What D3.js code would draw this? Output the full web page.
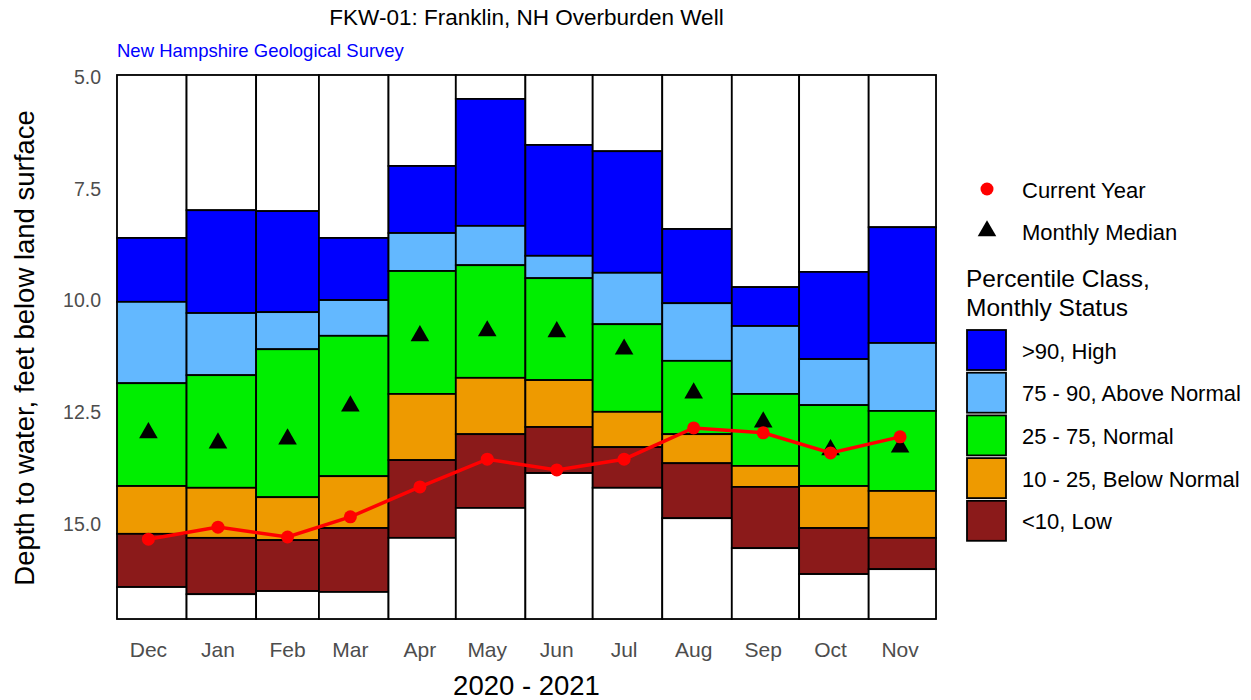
<!DOCTYPE html>
<html>
<head>
<meta charset="utf-8">
<script src="https://cdn.jsdelivr.net/npm/d3@7"></script>
<style>
  body { margin: 0; background: #fff; }
  svg { display: block; font-family: "Liberation Sans", Arial, sans-serif; }
</style>
</head>
<body>
<svg id="chart" width="1251" height="700"></svg>
<script>
// monthly percentile levels (depth to water, ft below land surface)
const months = ['Dec', 'Jan', 'Feb', 'Mar', 'Apr', 'May', 'Jun', 'Jul', 'Aug', 'Sep', 'Oct', 'Nov'];
const monthStart = ['2020-12-01', '2021-01-01', '2021-02-01', '2021-03-01', '2021-04-01', '2021-05-01',
  '2021-06-01', '2021-07-01', '2021-08-01', '2021-09-01', '2021-10-01', '2021-11-01', '2021-12-01'];
const recordHigh = [8.60, 7.98, 8.00, 8.60, 6.99, 5.49, 6.52, 6.66, 8.40, 9.70, 9.36, 8.36];
const p90 = [10.03, 10.28, 10.26, 9.99, 8.49, 8.33, 9.00, 9.38, 10.06, 10.57, 11.31, 10.95];
const p75 = [11.85, 11.67, 11.09, 10.79, 9.34, 9.21, 9.50, 10.53, 11.35, 12.09, 12.34, 12.47];
const p25 = [14.15, 14.19, 14.40, 13.93, 12.09, 11.73, 11.78, 12.49, 12.99, 13.70, 14.15, 14.26];
const p10 = [15.22, 15.31, 15.36, 15.09, 13.57, 12.99, 12.83, 13.28, 13.64, 14.17, 15.09, 15.31];
const recordLow = [16.41, 16.57, 16.50, 16.52, 15.31, 14.64, 13.86, 14.19, 14.87, 15.54, 16.12, 16.01];
const median = [12.96, 13.19, 13.10, 12.36, 10.79, 10.68, 10.70, 11.09, 12.07, 12.72, 13.34, 13.28];
const currentYear = [15.34, 15.07, 15.29, 14.84, 14.17, 13.55, 13.79, 13.55, 12.85, 12.96, 13.41, 13.05];
const yTicks = [5, 7.5, 10, 12.5, 15];
const yDomain = [4.955, 17.125];

const classNames = ['>90, High', '75 - 90, Above Normal', '25 - 75, Normal', '10 - 25, Below Normal', '<10, Low'];
const classColors = ['#0000FF', '#63B8FF', '#00EE00', '#EE9A00', '#8B1A1A'];

const svg = d3.select('#chart');
const parse = d3.utcParse('%Y-%m-%d');
const plotL = 117, plotR = 936, plotT = 75, plotB = 619;

const x = d3.scaleUtc()
  .domain([parse(monthStart[0]), parse(monthStart[12])])
  .range([plotL, plotR]);
const y = d3.scaleLinear().domain(yDomain).range([plotT, plotB]);

// mid-month position (15th)
const mid = i => x(d3.utcDay.offset(parse(monthStart[i]), 14));

// build segments for each month
const segs = [];
months.forEach((m, i) => {
  const bounds = [yDomain[0], recordHigh[i], p90[i], p75[i], p25[i], p10[i], recordLow[i], yDomain[1]];
  const fills = ['#ffffff'].concat(classColors, ['#ffffff']);
  for (let k = 0; k < fills.length; k++) {
    segs.push({ i: i, y0: bounds[k], y1: bounds[k + 1], fill: fills[k] });
  }
});

svg.append('rect')
  .attr('x', plotL).attr('y', plotT)
  .attr('width', plotR - plotL).attr('height', plotB - plotT)
  .attr('fill', 'none').attr('stroke', '#7f7f7f').attr('stroke-width', 1);

svg.append('g').selectAll('rect')
  .data(segs)
  .enter().append('rect')
  .attr('x', d => x(parse(monthStart[d.i])))
  .attr('width', d => x(parse(monthStart[d.i + 1])) - x(parse(monthStart[d.i])))
  .attr('y', d => y(d.y0))
  .attr('height', d => y(d.y1) - y(d.y0))
  .attr('fill', d => d.fill)
  .attr('stroke', '#000')
  .attr('stroke-width', 1.8);

// medians
const tri = d3.symbol().type(d3.symbolTriangle).size(150);
svg.append('g').selectAll('path')
  .data(median)
  .enter().append('path')
  .attr('d', tri)
  .attr('transform', (d, i) => 'translate(' + mid(i) + ',' + y(d) + ')')
  .attr('fill', '#000');

// current year
const line = d3.line().x((d, i) => mid(i)).y(d => y(d));
svg.append('path')
  .datum(currentYear)
  .attr('d', line)
  .attr('fill', 'none')
  .attr('stroke', '#FF0000')
  .attr('stroke-width', 3.5);

svg.append('g').selectAll('circle')
  .data(currentYear)
  .enter().append('circle')
  .attr('cx', (d, i) => mid(i))
  .attr('cy', d => y(d))
  .attr('r', 6.5)
  .attr('fill', '#FF0000');

// axes
svg.append('g').selectAll('text')
  .data(yTicks)
  .enter().append('text')
  .attr('x', 101)
  .attr('y', d => y(d))
  .attr('dy', '0.35em')
  .attr('text-anchor', 'end')
  .attr('fill', '#4d4d4d')
  .style('font-size', '19.5px')
  .text(d => d3.format('.1f')(d));

svg.append('g').selectAll('text')
  .data(months)
  .enter().append('text')
  .attr('x', (d, i) => mid(i))
  .attr('y', 657)
  .attr('text-anchor', 'middle')
  .attr('fill', '#4d4d4d')
  .style('font-size', '21px')
  .text(d => d);

svg.append('text')
  .attr('x', (plotL + plotR) / 2).attr('y', 695)
  .attr('text-anchor', 'middle')
  .style('font-size', '27.5px')
  .text('2020 - 2021');

svg.append('text')
  .attr('transform', 'translate(34,' + ((plotT + plotB) / 2 + 1) + ') rotate(-90)')
  .attr('text-anchor', 'middle')
  .style('font-size', '27.5px')
  .text('Depth to water, feet below land surface');

svg.append('text')
  .attr('x', (plotL + plotR) / 2).attr('y', 25)
  .attr('text-anchor', 'middle')
  .style('font-size', '22.5px')
  .text('FKW-01: Franklin, NH Overburden Well');

svg.append('text')
  .attr('x', plotL).attr('y', 57)
  .attr('fill', '#0000FF')
  .style('font-size', '18.5px')
  .text('New Hampshire Geological Survey');

// legend
const lg = svg.append('g');
lg.append('circle').attr('cx', 987).attr('cy', 189).attr('r', 6.5).attr('fill', '#FF0000');
lg.append('text').attr('x', 1022).attr('y', 190).attr('dy', '0.35em').style('font-size', '22px').text('Current Year');
lg.append('path').attr('d', tri).attr('transform', 'translate(987,231)').attr('fill', '#000');
lg.append('text').attr('x', 1022).attr('y', 232).attr('dy', '0.35em').style('font-size', '22px').text('Monthly Median');
lg.append('text').attr('x', 966).attr('y', 287).style('font-size', '24.5px').text('Percentile Class,');
lg.append('text').attr('x', 966).attr('y', 316).style('font-size', '24.5px').text('Monthly Status');

const item = lg.selectAll('g.item')
  .data(classNames)
  .enter().append('g')
  .attr('class', 'item')
  .attr('transform', (d, i) => 'translate(967,' + (330 + i * 42.7) + ')');
item.append('rect')
  .attr('width', 39).attr('height', 40)
  .attr('fill', (d, i) => classColors[i])
  .attr('stroke', '#000').attr('stroke-width', 1.8);
item.append('text')
  .attr('x', 55).attr('y', 21).attr('dy', '0.35em')
  .style('font-size', '22px')
  .text(d => d);
</script>
</body>
</html>
